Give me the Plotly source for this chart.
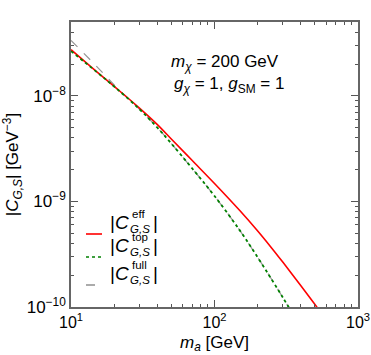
import plotly.graph_objects as go

# ---- data ----
mass_eff = [10, 15, 20, 30, 40, 50, 70, 100, 150, 200, 250, 300, 400, 500, 600]
c_eff = [2.74e-8, 1.71e-8, 1.23e-8, 7.67e-9, 5.35e-9, 3.91e-9, 2.44e-9, 1.48e-9,
         8.20e-10, 5.25e-10, 3.63e-10, 2.65e-10, 1.59e-10, 1.06e-10, 7.57e-11]

mass_top = [10, 15, 20, 30, 40, 50, 70, 100, 150, 200, 250, 300, 350]
c_top = [2.655e-8, 1.698e-8, 1.227e-8, 7.48e-9, 5.00e-9, 3.54e-9, 2.05e-9, 1.127e-9,
         5.32e-10, 2.95e-10, 1.83e-10, 1.225e-10, 8.65e-11]

mass_full = [10, 15, 20, 25, 30, 40, 50, 70, 100, 150, 200, 250, 300, 350]
c_full = [3.35e-8, 1.92e-8, 1.27e-8, 9.44e-9, 7.48e-9, 5.00e-9, 3.54e-9, 2.05e-9, 1.127e-9,
          5.32e-10, 2.95e-10, 1.83e-10, 1.225e-10, 8.65e-11]

x_tickvals = [10, 100, 1000]
x_ticktext = ["10<sup>1</sup>", "10<sup>2</sup>", "10<sup>3</sup>"]
y_tickvals = [1e-10, 1e-9, 1e-8]
y_ticktext = ["10<sup>\u221210</sup>", "10<sup>\u22129</sup>", "10<sup>\u22128</sup>"]

legend_sup = ["eff", "top", "full"]
colors = ["rgb(255,0,0)", "rgb(0,128,0)", "rgb(150,150,150)"]
dashes = ["solid", "dot", "dash"]

FONT = "Liberation Sans, Arial, sans-serif"
W, H = 371, 355
L, R, T, B = 71, 13, 22, 48
PW, PH = W - L - R, H - T - B


def px(xp):  # screen pixel -> paper x
    return (xp - L) / PW


def py(yp):  # screen pixel -> paper y
    return (T + PH - yp) / PH


fig = go.Figure()
fig.add_trace(go.Scatter(x=mass_full, y=c_full, mode="lines", line_shape="spline",
                         line=dict(color=colors[2], width=1.2, dash="dash"), showlegend=False))
fig.add_trace(go.Scatter(x=mass_eff, y=c_eff, mode="lines", line_shape="spline",
                         line=dict(color=colors[0], width=1.6), showlegend=False))
fig.add_trace(go.Scatter(x=mass_top, y=c_top, mode="lines", line_shape="spline",
                         line=dict(color=colors[1], width=1.8, dash="dot"), showlegend=False))

minor_x = [m * 10 ** e for e in (1, 2) for m in range(2, 10)]
minor_y = [m * 10.0 ** e for e in (-10, -9, -8) for m in range(2, 10)]

axis_common = dict(showline=True, linecolor="#666", linewidth=1.5, mirror="allticks",
                   ticks="inside", ticklen=7, tickcolor="#555", tickwidth=1,
                   showgrid=False, zeroline=False, automargin=False,
                   ticklabeloverflow="allow")

fig.update_xaxes(type="log", range=[0.99999, 3.00001], tickmode="array", tickvals=x_tickvals,
                 ticktext=x_ticktext, tickfont=dict(family=FONT, size=16, color="black"),
                 minor=dict(tickmode="array", tickvals=minor_x, ticks="inside", ticklen=3,
                            tickcolor="#555", showgrid=False),
                 title=dict(text="<i>m</i><sub><i>a</i></sub> [GeV]",
                            font=dict(family=FONT, size=17, color="black"), standoff=6),
                 **axis_common)
fig.update_yaxes(type="log", range=[-10.00001, -7.3], tickmode="array", tickvals=y_tickvals,
                 ticktext=y_ticktext, tickfont=dict(family=FONT, size=17, color="black"),
                 minor=dict(tickmode="array", tickvals=minor_y, ticks="inside", ticklen=3,
                            tickcolor="#555", showgrid=False),
                 title=dict(text="|<i>C</i><sub><i>G,S</i></sub>| [GeV<sup>\u22123</sup>]",
                            font=dict(family=FONT, size=17, color="black"), standoff=4),
                 **axis_common)

annotations = [
    dict(x=px(281), y=py(50), xref="paper", yref="paper", showarrow=False,
         text="<i>m</i><sub><i>\u03c7</i></sub> = 200 GeV",
         font=dict(family=FONT, size=17, color="black")),
    dict(x=px(286), y=py(72), xref="paper", yref="paper", showarrow=False,
         text="<i>g</i><sub><i>\u03c7</i></sub> = 1, <i>g</i><sub>SM</sub> = 1",
         font=dict(family=FONT, size=17, color="black")),
]
shapes = []
leg_y = [234, 257, 285]
for i, yy in enumerate(leg_y):
    shapes.append(dict(type="line", xref="paper", yref="paper", x0=px(86), x1=px(102),
                       y0=py(yy), y1=py(yy),
                       line=dict(color=colors[i], width=1.6, dash=dashes[i])))
    annotations.append(dict(x=px(108), y=py(yy + 0.5), xref="paper", yref="paper",
                            xanchor="left", showarrow=False, text="|<i>C</i>",
                            font=dict(family=FONT, size=19, color="black")))
    annotations.append(dict(x=px(130), y=py(yy - 12), xref="paper", yref="paper",
                            xanchor="left", showarrow=False, text=legend_sup[i],
                            font=dict(family=FONT, size=11.5, color="black")))
    annotations.append(dict(x=px(128), y=py(yy + 3), xref="paper", yref="paper",
                            xanchor="left", showarrow=False, text="<i>G,S</i>",
                            font=dict(family=FONT, size=11.5, color="black")))
    annotations.append(dict(x=px(151), y=py(yy + 0.5), xref="paper", yref="paper",
                            xanchor="left", showarrow=False, text="|",
                            font=dict(family=FONT, size=19, color="black")))

fig.update_layout(width=W, height=H, margin=dict(l=L, r=R, t=T, b=B),
                  paper_bgcolor="white", plot_bgcolor="white",
                  annotations=annotations, shapes=shapes, showlegend=False)

fig.write_html("out.html", config={"displayModeBar": False},
               post_script="document.body.style.margin='0';"
                           "document.body.style.overflow='hidden';")
